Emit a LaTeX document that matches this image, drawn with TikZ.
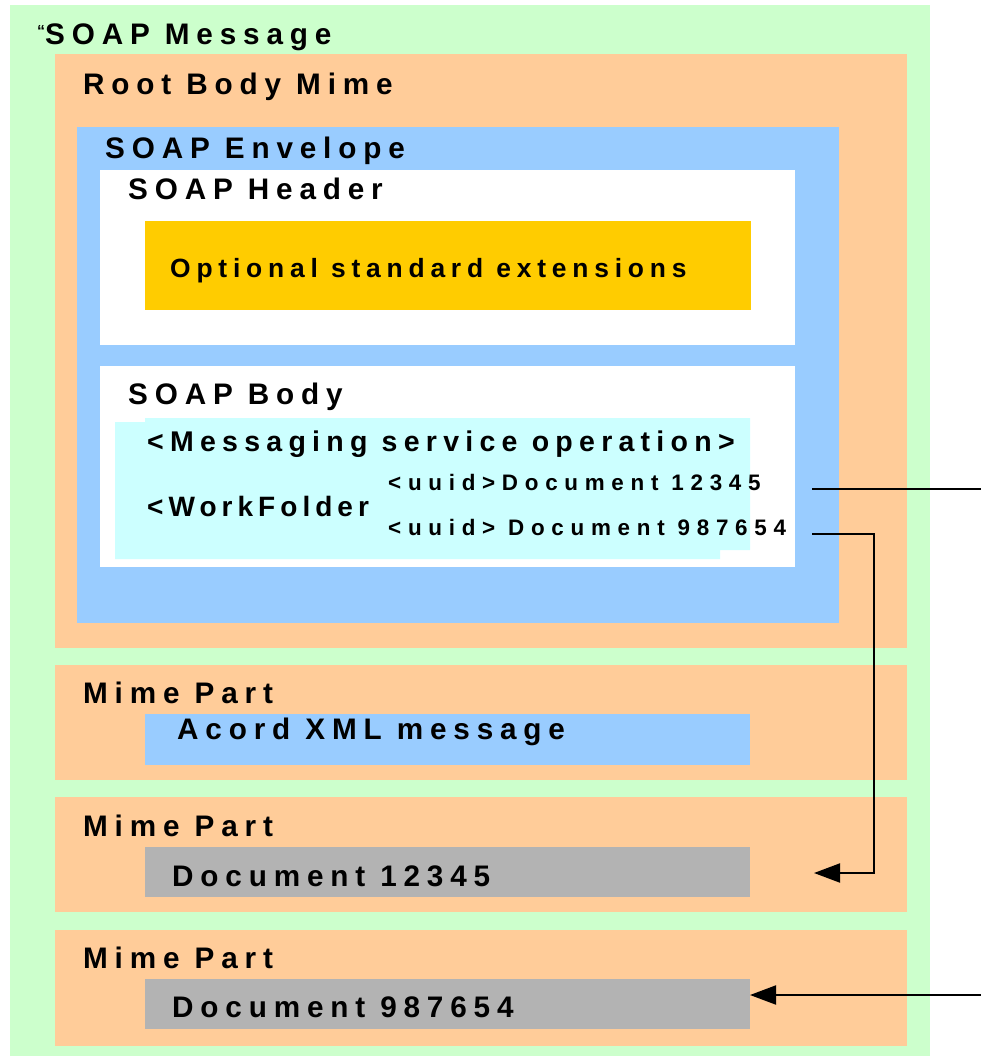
\documentclass[tikz,border=0pt]{standalone}
\usepackage{fontspec}
\usetikzlibrary{arrows.meta}
\newfontfamily\lblfont{Liberation Sans}[LetterSpace=23]
\newfontfamily\extfont{Liberation Sans}[LetterSpace=22]
\newfontfamily\tightfont{Liberation Sans}[LetterSpace=18]
\newfontfamily\uuidfont{Liberation Sans}[LetterSpace=30]
\definecolor{msggreen}{HTML}{CCFFCC}
\definecolor{mimeorange}{HTML}{FFCC99}
\definecolor{envblue}{HTML}{99CCFF}
\definecolor{extgold}{HTML}{FFCC00}
\definecolor{opcyan}{HTML}{CCFFFF}
\definecolor{docgray}{HTML}{B3B3B3}
\tikzset{
	box/.style={anchor=north west, inner sep=0pt, outer sep=0pt},
	lbl/.style={anchor=base west, inner sep=0pt, font=\lblfont\bfseries\fontsize{29.7}{30}\selectfont},
	uuid/.style={anchor=base west, inner sep=0pt, font=\uuidfont\bfseries\fontsize{22.4}{23}\selectfont},
	link/.style={line width=2pt},
	linkarrow/.style={line width=2pt, -{Triangle[length=26pt,width=19pt]}}
}
\begin{document}
\begin{tikzpicture}[x=1pt,y=-1pt]
		\useasboundingbox (0,0) rectangle (981,1056);
		% boxes
		\node[box, fill=msggreen, minimum width=920pt, minimum height=1051pt] (msg) at (10,5) {};
		\node[box, fill=mimeorange, minimum width=852pt, minimum height=594pt] (root) at (55,54) {};
		\node[box, fill=envblue, minimum width=762pt, minimum height=496pt] (env) at (77,127) {};
		\node[box, fill=white, minimum width=695pt, minimum height=175pt] (header) at (100,170) {};
		\node[box, fill=extgold, minimum width=606pt, minimum height=89pt] (ext) at (145,221) {};
		\node[box, fill=white, minimum width=695pt, minimum height=201pt] (body) at (100,366) {};
		\fill[opcyan] (115,422) -- (145,422) -- (145,418) -- (750,418) -- (750,550)
			-- (720,550) -- (720,559) -- (115,559) -- cycle;
		\node[box, fill=mimeorange, minimum width=852pt, minimum height=115pt] (part1) at (55,665) {};
		\node[box, fill=envblue, minimum width=605pt, minimum height=51pt] (acord) at (145,714) {};
		\node[box, fill=mimeorange, minimum width=852pt, minimum height=115pt] (part2) at (55,797) {};
		\node[box, fill=docgray, minimum width=605pt, minimum height=50pt] (doc1) at (145,847) {};
		\node[box, fill=mimeorange, minimum width=852pt, minimum height=116pt] (part3) at (55,930) {};
		\node[box, fill=docgray, minimum width=605pt, minimum height=50pt] (doc2) at (145,979) {};
		% labels
		\node[lbl] (msgtxt) at (37,45) {{\fontsize{16}{16}\selectfont\raisebox{8pt}{“}}SOAP Message};
		\node[lbl] (roottxt) at (83,95) {Root Body Mime};
		\node[lbl] (envtxt) at (105,159) {SOAP Envelope};
		\node[lbl] (headertxt) at (128,200) {SOAP Header};
		\node[lbl, font=\extfont\bfseries\fontsize{26.4}{27}\selectfont] (exttxt) at (170,277) {Optional standard extensions};
		\node[lbl] (bodytxt) at (128,404) {SOAP Body};
		\node[lbl, font=\extfont\bfseries\fontsize{28.5}{29}\selectfont] (optxt) at (147,451) {<Messaging service operation>};
		\node[lbl, font=\tightfont\bfseries\fontsize{28}{28}\selectfont] (foldertxt) at (147,516) {<WorkFolder};
		\node[uuid] (uuid1) at (388,490) {<uuid>Document 12345};
		\node[uuid] (uuid2) at (388,535) {<uuid> Document 987654};
		\node[lbl] (part1txt) at (83,703) {Mime Part};
		\node[lbl] (acordtxt) at (177,739) {Acord XML message};
		\node[lbl] (part2txt) at (83,836) {Mime Part};
		\node[lbl] (doc1txt) at (172,886) {Document 12345};
		\node[lbl] (part3txt) at (83,968) {Mime Part};
		\node[lbl] (doc2txt) at (172,1017) {Document 987654};
		% links
		\coordinate (l1a) at (812,489);
		\coordinate (l1b) at (981,489);
		\draw[link] (l1a) -- (l1b);
		\coordinate (l2a) at (812,534);
		\coordinate (l2k) at (874,534);
		\coordinate (l2b) at (814,873);
		\draw[linkarrow] (l2a) -- (l2k) |- (l2b);
		\coordinate (l3a) at (981,995);
		\draw[linkarrow] (l3a) -- (l3a -| doc2.east);
		\end{tikzpicture}
\end{document}
